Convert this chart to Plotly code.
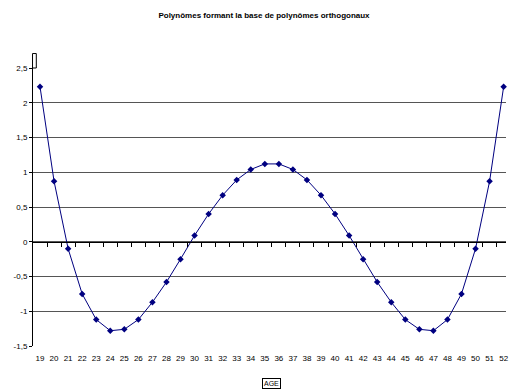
import plotly.graph_objects as go

# Ages (categories) and values of the degree-4 orthogonal polynomial
ages = list(range(19, 53))
values = [2.23, 0.87, -0.10, -0.75, -1.12, -1.28, -1.26, -1.12, -0.87, -0.58,
          -0.25, 0.09, 0.40, 0.67, 0.89, 1.04, 1.12, 1.12, 1.04, 0.89,
          0.67, 0.40, 0.09, -0.25, -0.58, -0.87, -1.12, -1.26, -1.28, -1.12,
          -0.75, -0.10, 0.87, 2.23]
y_ticks = [-1.5, -1, -0.5, 0, 0.5, 1, 1.5, 2, 2.5]
y_labels = [("%g" % v).replace(".", ",") for v in y_ticks]

W, H = 509, 392
ML, MT, MB = 32.6, 68, 46
x_min = ages[0] - 0.5
step = 14.15
x_max = x_min + (W - ML) / step
y_min, y_max = -1.5, 2.5
zero_pos = (0 - y_min) / (y_max - y_min)

font = "Liberation Sans, Arial, sans-serif"
navy = "#000080"

fig = go.Figure()
fig.add_trace(go.Scatter(
    x=ages, y=values, mode="lines+markers",
    line=dict(color=navy, width=1),
    marker=dict(symbol="diamond", size=5, color=navy),
    cliponaxis=False, showlegend=False,
))
# invisible trace on the second x axis so it is drawn
fig.add_trace(go.Scatter(x=[ages[0]], y=[0], xaxis="x2", mode="markers",
                         marker=dict(opacity=0), showlegend=False, hoverinfo="skip"))

fig.update_layout(
    width=W, height=H,
    margin=dict(l=ML, r=0, t=MT, b=MB),
    paper_bgcolor="white", plot_bgcolor="white",
    font=dict(family=font, size=8, color="black"),
    title=dict(text="<b>Polynômes formant la base de polynômes orthogonaux</b>",
               font=dict(family=font, size=8, color="black"),
               x=264 / W, xanchor="center", y=1 - 15 / H, yanchor="middle", yref="container"),
    xaxis=dict(range=[x_min, x_max], tickvals=ages, ticktext=[str(a) for a in ages],
               showgrid=False, zeroline=False, showline=False, ticks="",
               ticklabelstandoff=6, ticklabeloverflow="allow",
               tickfont=dict(family=font, size=8, color="black")),
    xaxis2=dict(range=[x_min, x_max], overlaying="x", anchor="free", position=zero_pos,
                side="bottom", showline=True, linecolor="black", linewidth=1,
                ticks="outside", ticklen=4, tickcolor="black", tickwidth=1,
                tickvals=[a + 0.5 for a in ages[:-1]], showticklabels=False,
                showgrid=False, zeroline=False),
    yaxis=dict(range=[y_min, y_max], tickvals=y_ticks, ticktext=y_labels,
               showgrid=True, gridcolor="#555555", gridwidth=1,
               zeroline=False, showline=True, linecolor="black", linewidth=1,
               ticks="outside", ticklen=3, tickcolor="black",
               tickfont=dict(family=font, size=8, color="black")),
    shapes=[dict(type="rect", xref="paper", yref="paper",
                 x0=-0.001, x1=0.007, y0=1.0, y1=1.052,
                 line=dict(color="black", width=1), fillcolor="white")],
    annotations=[dict(text="AGE", xref="paper", yref="paper",
                      x=(272.5 - ML) / (W - ML), y=(346 - 383) / (H - MT - MB),
                      xanchor="center", yanchor="middle", showarrow=False,
                      font=dict(family=font, size=7, color="black"),
                      bordercolor="black", borderwidth=1, borderpad=1)],
)

fig.write_html("out.html")
